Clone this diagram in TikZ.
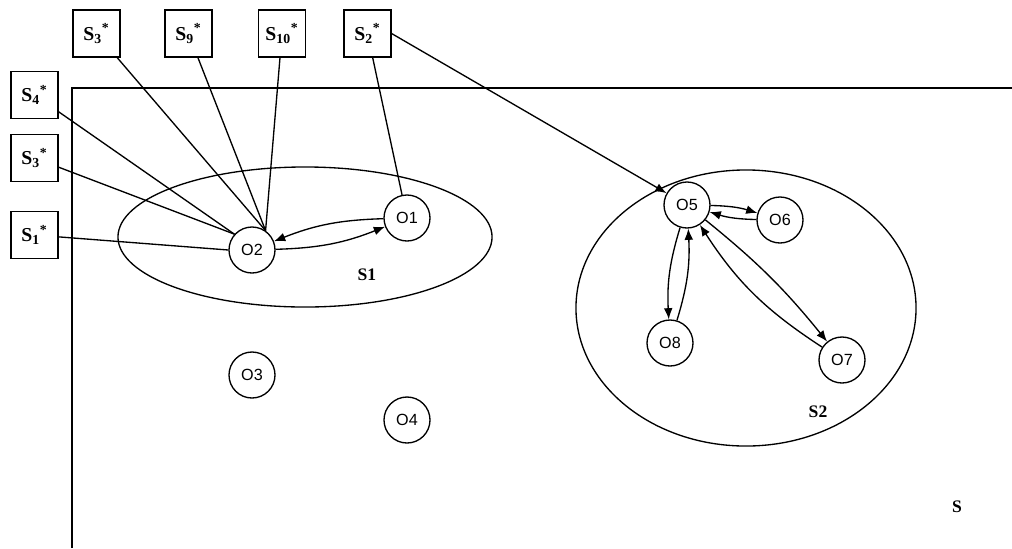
\documentclass[tikz,border=0pt]{standalone}
\usepackage{fontspec}
\setmainfont{Liberation Sans}
\newfontfamily\labserif{Liberation Serif}
\usepackage{tikz}
\usetikzlibrary{arrows.meta,shapes.geometric}

\begin{document}
\begin{tikzpicture}[
  x=0.025cm, y=-0.025cm,
  every node/.style={font=\fontsize{11.5}{13}\selectfont},
  obj/.style={circle,draw,line width=0.95pt,minimum size=1.15cm,inner sep=0pt},
  sbox/.style={rectangle,draw,line width=0.95pt,minimum size=1.17cm,inner sep=0pt,
    font=\labserif\bfseries\fontsize{14}{16}\selectfont},
  region/.style={ellipse,draw,line width=0.95pt,inner sep=0pt},
  slab/.style={font=\labserif\bfseries\fontsize{12.5}{14}\selectfont},
  link/.style={line width=0.95pt},
  arr/.style={-{Latex[length=2.8mm,width=2.2mm]},line width=0.95pt}
]
\useasboundingbox (0,0) rectangle (1012,548);
% frame of S
\draw[line width=0.95pt] (72,548) -- (72,88) -- (1012,88);
% regions
\node[region,minimum width=9.35cm,minimum height=3.5cm] (e1) at (305,237) {};
\node[region,minimum width=8.5cm,minimum height=6.9cm] (e2) at (746,308) {};
\node[slab] (s1lab) at (367,275) {S1};
\node[slab] (s2lab) at (818,412) {S2};
\node[slab] (slab) at (957,507) {S};
% objects
\node[obj,fill=white] (o1) at (407,218) {O1};
\node[obj,fill=white] (o2) at (252,250) {O2};
\node[obj] (o3) at (252,375) {O3};
\node[obj] (o4) at (407,420) {O4};
\node[obj,fill=white] (o5) at (687,205) {O5};
\node[obj] (o6) at (780,220) {O6};
\node[obj] (o7) at (842,360) {O7};
\node[obj] (o8) at (670,343) {O8};
% boxes
\node[sbox] (b3a) at (96.5,33.5) {S\textsubscript{3}\textsuperscript{*}};
\node[sbox] (b9) at (188.5,33.5) {S\textsubscript{9}\textsuperscript{*}};
\node[sbox] (b10) at (282,33.5) {S\textsubscript{10}\textsuperscript{*}};
\node[sbox] (b2) at (367.5,33.5) {S\textsubscript{2}\textsuperscript{*}};
\node[sbox] (b4) at (34.5,95) {S\textsubscript{4}\textsuperscript{*}};
\node[sbox] (b3b) at (34.5,158) {S\textsubscript{3}\textsuperscript{*}};
\node[sbox] (b1) at (34.5,235) {S\textsubscript{1}\textsuperscript{*}};
\foreach \u in {b3a,b9,b10} \draw[link] (\u) -- (o2.55);
\foreach \u in {b4,b3b} \draw[link] (\u) -- (o2.138);
\draw[link] (b1) -- (o2.west);
\draw[link] (b2) -- (o1);
\draw[arr] (b2.east) -- (o5);
% interactions
\draw[arr] (o1) to[bend right=10] (o2);
\draw[arr] (o2) to[bend right=10] (o1);
\draw[arr] (o5) to[bend left=8] (o6);
\draw[arr] (o6) to[bend left=8] (o5);
\draw[arr] (o5) to[bend right=10] (o8);
\draw[arr] (o8) to[bend right=10] (o5);
\draw[arr] (o5) to[bend left=6] (o7);
\draw[arr] (o7) to[bend left=12] (o5);
\end{tikzpicture}
\end{document}
